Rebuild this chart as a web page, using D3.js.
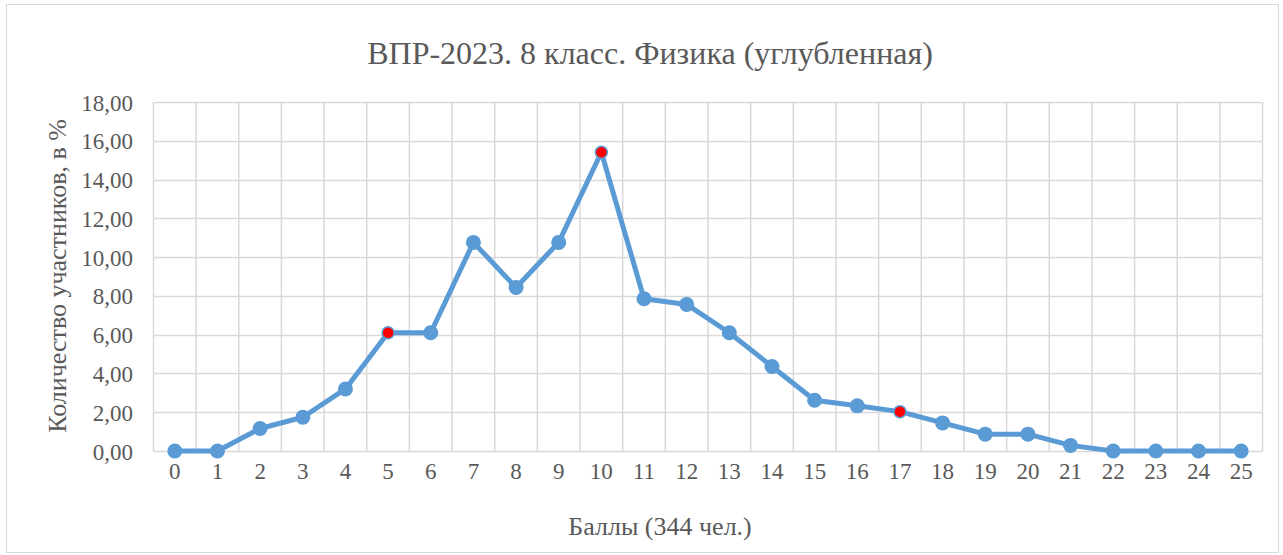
<!DOCTYPE html>
<html><head><meta charset="utf-8">
<script src="https://cdn.jsdelivr.net/npm/d3@7"></script>
<style>body{margin:0;background:#fff}svg{display:block}</style>
</head><body>
<svg id="c" width="1283" height="555"></svg>
<script>
const categories = ["0","1","2","3","4","5","6","7","8","9","10","11","12","13","14","15","16","17","18","19","20","21","22","23","24","25"];
const values = [0,0,1.16,1.74,3.20,6.10,6.10,10.76,8.43,10.76,15.41,7.85,7.56,6.10,4.36,2.62,2.33,2.03,1.45,0.87,0.87,0.29,0,0,0,0];
const highlighted = ["5","10","17"];
const yTicks = [0,2,4,6,8,10,12,14,16,18];
const title = "ВПР-2023. 8 класс. Физика (углубленная)";
const xTitle = "Баллы (344 чел.)";
const yTitle = "Количество участников, в %";

const svg = d3.select("#c");
const font = "'Liberation Serif','Times New Roman',serif";
const txt = "#595959";
svg.append("rect").attr("x",6.5).attr("y",4.5).attr("width",1272).attr("height",548).attr("fill","#fff").attr("stroke","#d9d9d9");

const L=153.5,R=1262.5,T=102,B=451;
const x = d3.scaleBand().domain(categories).range([L,R]);
const y = d3.scaleLinear().domain([0,18]).range([B,T]);
const cx = d => x(d)+x.bandwidth()/2;

const g = svg.append("g");
g.selectAll("line.h").data(yTicks).join("line")
 .attr("x1",L).attr("x2",R).attr("y1",d=>Math.round(y(d))+0.5).attr("y2",d=>Math.round(y(d))+0.5)
 .attr("stroke","#d9d9d9").attr("stroke-width",1.5);
const bounds = categories.map(c=>x(c)).concat([R]);
g.selectAll("line.v").data(bounds).join("line")
 .attr("x1",d=>d).attr("x2",d=>d).attr("y1",T).attr("y2",B)
 .attr("stroke","#d9d9d9").attr("stroke-width",1.5);

const yAxis = d3.axisLeft(y).tickValues(yTicks).tickSize(0).tickPadding(0)
 .tickFormat(d=>d3.format(".2f")(d).replace(".",","));
const ya = svg.append("g").attr("transform",`translate(${L-20.5},0)`).call(yAxis);
ya.select(".domain").remove();
ya.selectAll("text").attr("font-family",font).attr("font-size",23).attr("fill",txt).attr("dy","0.35em");

const xAxis = d3.axisBottom(x).tickSize(0).tickPadding(0);
const xa = svg.append("g").attr("transform",`translate(0,${B})`).call(xAxis);
xa.select(".domain").remove();
xa.selectAll("text").attr("font-family",font).attr("font-size",23).attr("fill",txt).attr("y",28).attr("dy",0);

const line = d3.line().x((d,i)=>cx(categories[i])).y(d=>y(d));
svg.append("path").datum(values).attr("d",line).attr("fill","none")
 .attr("stroke","#5b9bd5").attr("stroke-width",5).attr("stroke-linejoin","round");
svg.selectAll("circle.m").data(values).join("circle")
 .attr("cx",(d,i)=>cx(categories[i])).attr("cy",d=>y(d))
 .attr("r",(d,i)=>highlighted.includes(categories[i])?6:7.5)
 .attr("fill",(d,i)=>highlighted.includes(categories[i])?"#ff0000":"#5b9bd5")
 .attr("stroke","#5b9bd5").attr("stroke-width",(d,i)=>highlighted.includes(categories[i])?1.5:0);

svg.append("text").attr("x",650).attr("y",64).attr("text-anchor","middle")
 .attr("font-family",font).attr("font-size",32).attr("fill",txt).text(title);
svg.append("text").attr("x",660).attr("y",535).attr("text-anchor","middle")
 .attr("font-family",font).attr("font-size",26).attr("fill",txt).text(xTitle);
svg.append("text").attr("transform","translate(66,276) rotate(-90)").attr("text-anchor","middle")
 .attr("font-family",font).attr("font-size",26).attr("fill",txt).text(yTitle);
</script>
</body></html>
